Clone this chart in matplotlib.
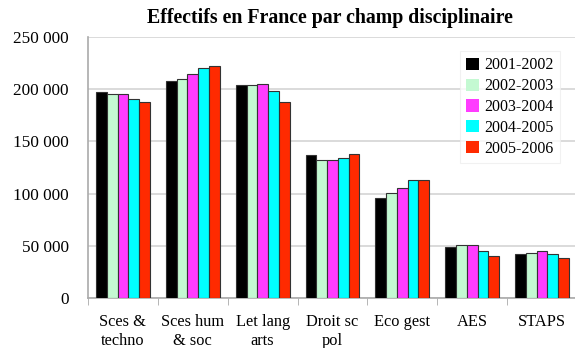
import matplotlib
matplotlib.use("Agg")
import matplotlib.pyplot as plt
import numpy as np

categories = ["Sces &\ntechno", "Sces hum\n& soc", "Let lang\narts", "Droit sc\npol",
              "Eco gest", "AES", "STAPS"]
years = ["2001-2002", "2002-2003", "2003-2004", "2004-2005", "2005-2006"]
values = {
    "2001-2002": [197600, 207600, 204000, 136700, 95500, 49200, 42100],
    "2002-2003": [195400, 209500, 203700, 132200, 100900, 50400, 43100],
    "2003-2004": [195100, 214900, 205000, 132500, 105700, 50800, 45000],
    "2004-2005": [190600, 220300, 198000, 133800, 113000, 45000, 41800],
    "2005-2006": [187700, 222200, 187700, 137600, 113000, 40200, 38300],
}
colors = ["#000000", "#c4f9d2", "#ff3cff", "#00ffff", "#ff2a00"]
yticks = [0, 50000, 100000, 150000, 200000, 250000]
ytick_labels = ["0", "50 000", "100 000", "150 000", "200 000", "250 000"]

plt.rcParams["font.family"] = ["Liberation Serif", "DejaVu Serif"]

fig = plt.figure(figsize=(5.75, 3.48), dpi=100)
ax = fig.add_axes([88 / 575, 1 - 298 / 348, (577 - 88) / 575, (298 - 37) / 348])

x = np.arange(len(categories))
bw = 0.154
for i, (yr, c) in enumerate(zip(years, colors)):
    ax.bar(x + (i - 2) * bw, values[yr], width=bw, color=c, edgecolor="#333333",
           linewidth=0.8, label=yr, zorder=3)

ax.set_xlim(-0.5, len(categories) - 0.5)
ax.set_ylim(0, 250000)
ax.set_yticks(yticks)
ax.set_yticklabels(ytick_labels, fontsize=12.4)
ax.set_xticks(x)
ax.set_xticklabels(categories, fontsize=11.8, linespacing=1.25)
ax.set_xticks(np.arange(len(categories) + 1) - 0.5, minor=True)
ax.tick_params(axis="x", which="major", length=0, pad=11.5)
ax.tick_params(axis="x", which="minor", length=5, color="#aaaaaa", direction="out")
ax.tick_params(axis="y", length=0, pad=14)

ax.grid(axis="y", color="#d4d4d4", linewidth=1.2, zorder=0)
for s in ["top", "right"]:
    ax.spines[s].set_visible(False)
for s in ["left", "bottom"]:
    ax.spines[s].set_color("#aaaaaa")
    ax.spines[s].set_linewidth(1.2)

leg = ax.legend(loc="upper left", bbox_to_anchor=((460 - 88) / 489, 1 - (51 - 37) / 261),
                fontsize=11.5, frameon=True, fancybox=False, handlelength=0.8,
                handleheight=0.8, handletextpad=0.3, labelspacing=0.3,
                borderpad=0.4, borderaxespad=0)
leg.get_frame().set_edgecolor("#eeeeee")
leg.get_frame().set_linewidth(0.8)
for h in leg.legend_handles:
    h.set_edgecolor("none")

fig.text(330 / 575, 1 - 18 / 348, "Effectifs en France par champ disciplinaire",
         ha="center", va="center", fontsize=14.3, fontweight="bold")

fig.savefig("out.png", dpi=100)
